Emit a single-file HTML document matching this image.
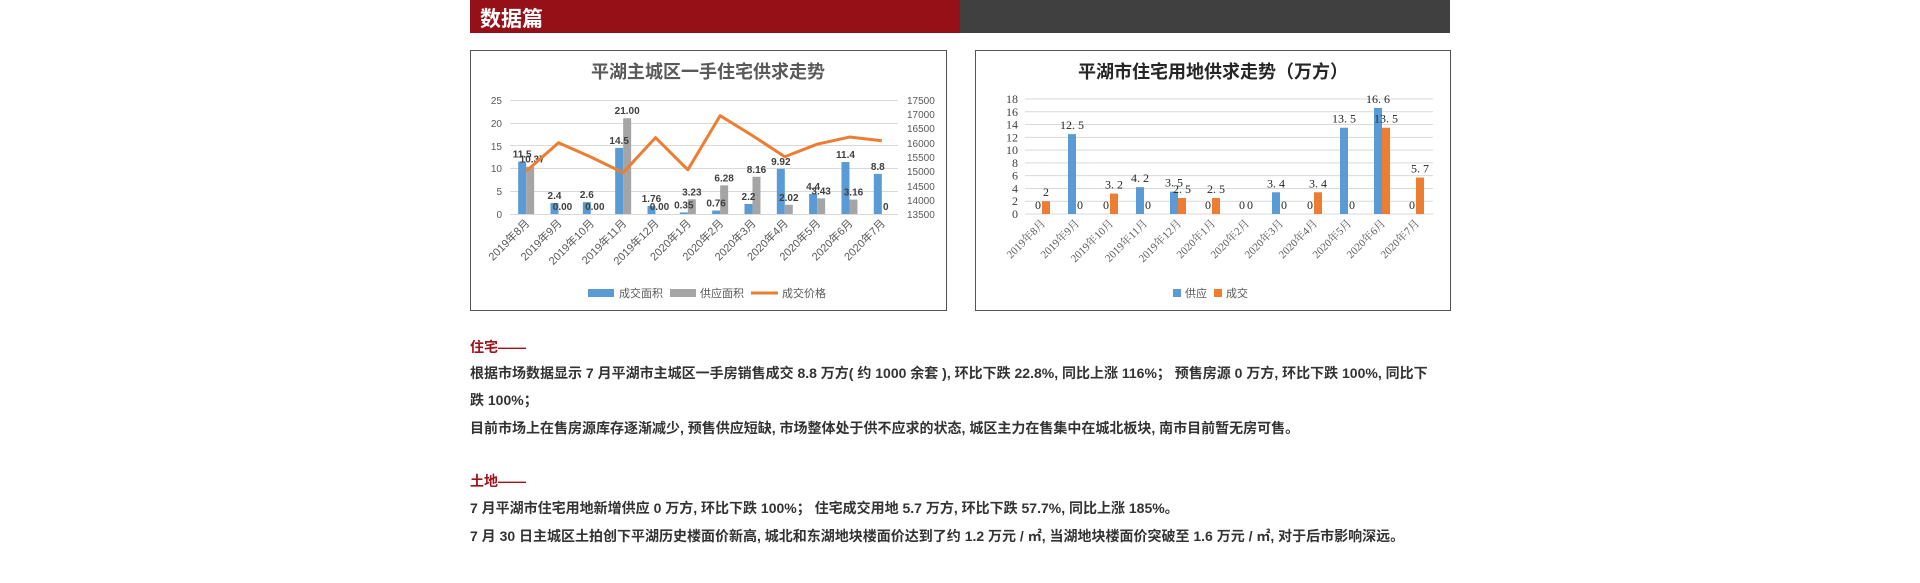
<!DOCTYPE html>
<html><head><meta charset="utf-8"><style>
body{margin:0;width:1920px;height:583px;background:#fff;position:relative;overflow:hidden;font-family:"Liberation Sans","Noto Sans CJK SC",sans-serif}
.t{position:absolute;left:470px;font-size:14px;font-weight:bold;color:#333;white-space:nowrap;letter-spacing:0px}
.r{color:#a0131a}
</style></head><body>
<div style="position:absolute;left:470px;top:0;width:490px;height:33px;background:#951017"></div>
<div style="position:absolute;left:960px;top:0;width:490px;height:33px;background:#404040"></div>
<div style="position:absolute;left:480px;top:3px;font-size:21px;font-weight:bold;color:#fff">数据篇</div>

<svg style="position:absolute;left:0;top:0" width="1920" height="583">
<rect x="470.5" y="50.5" width="476" height="260" fill="#fff" stroke="#555" stroke-width="1"/>
<rect x="975.5" y="50.5" width="475" height="260" fill="#fff" stroke="#555" stroke-width="1"/>
<g font-family="Liberation Sans,Noto Sans CJK SC,sans-serif">
<text x="708" y="78" text-anchor="middle" font-size="18" font-weight="bold" fill="#595959">平湖主城区一手住宅供求走势</text>
<g stroke="#d9d9d9" stroke-width="1">
<line x1="510" x2="898" y1="100.5" y2="100.5"/><line x1="510" x2="898" y1="123.5" y2="123.5"/><line x1="510" x2="898" y1="145.5" y2="145.5"/><line x1="510" x2="898" y1="168.5" y2="168.5"/><line x1="510" x2="898" y1="191.5" y2="191.5"/><line x1="510" x2="898" y1="214.5" y2="214.5"/>
</g>
<g font-size="10" fill="#595959" text-anchor="end">
<text x="502" y="104">25</text><text x="502" y="127">20</text><text x="502" y="150">15</text><text x="502" y="172">10</text><text x="502" y="195">5</text><text x="502" y="218">0</text>
</g>
<g font-size="10" fill="#595959">
<text x="907" y="104">17500</text><text x="907" y="118">17000</text><text x="907" y="132">16500</text><text x="907" y="147">16000</text><text x="907" y="161">15500</text><text x="907" y="175">15000</text><text x="907" y="190">14500</text><text x="907" y="204">14000</text><text x="907" y="218">13500</text>
</g>
<g id="c1"></g>
<g font-size="11" fill="#595959">
<rect x="588" y="289" width="26" height="8" fill="#5B9BD5"/><text x="619" y="297">成交面积</text>
<rect x="670" y="289" width="26" height="8" fill="#A5A5A5"/><text x="700" y="297">供应面积</text>
<line x1="751" x2="778" y1="293" y2="293" stroke="#ED7D31" stroke-width="3"/><text x="782" y="297">成交价格</text>
</g>

<text x="1213" y="78" text-anchor="middle" font-size="18" font-weight="bold" fill="#262626">平湖市住宅用地供求走势（万方）</text>
<g id="g2" stroke="#d9d9d9" stroke-width="1"></g>
<g id="c2"></g>
<g font-size="11" fill="#595959">
<rect x="1173" y="289" width="8" height="8" fill="#5B9BD5"/><text x="1185" y="297">供应</text>
<rect x="1214" y="289" width="8" height="8" fill="#ED7D31"/><text x="1226" y="297">成交</text>
</g>
</g>
</svg>

<div class="t r" style="top:337px">住宅——</div>
<div class="t" style="top:363px">根据市场数据显示 7 月平湖市主城区一手房销售成交 8.8 万方( 约 1000 余套 ), 环比下跌 22.8%, 同比上涨 116%； 预售房源 0 万方, 环比下跌 100%, 同比下</div>
<div class="t" style="top:390px">跌 100%；</div>
<div class="t" style="top:418px">目前市场上在售房源库存逐渐减少, 预售供应短缺, 市场整体处于供不应求的状态, 城区主力在售集中在城北板块, 南市目前暂无房可售。</div>
<div class="t r" style="top:471px">土地——</div>
<div class="t" style="top:498px">7 月平湖市住宅用地新增供应 0 万方, 环比下跌 100%； 住宅成交用地 5.7 万方, 环比下跌 57.7%, 同比上涨 185%。</div>
<div class="t" style="top:526px">7 月 30 日主城区土拍创下平湖历史楼面价新高, 城北和东湖地块楼面价达到了约 1.2 万元 / ㎡, 当湖地块楼面价突破至 1.6 万元 / ㎡, 对于后市影响深远。</div>

<script>
var NS="http://www.w3.org/2000/svg";
function el(p,t,a,txt){var e=document.createElementNS(NS,t);for(var k in a)e.setAttribute(k,a[k]);if(txt!==undefined)e.textContent=txt;p.appendChild(e);return e;}
var cats=["2019年8月","2019年9月","2019年10月","2019年11月","2019年12月","2020年1月","2020年2月","2020年3月","2020年4月","2020年5月","2020年6月","2020年7月"];
var c1=document.getElementById("c1");
var b=[11.5,2.4,2.6,14.5,1.76,0.35,0.76,2.2,9.92,4.4,11.4,8.8],bl=["11.5","2.4","2.6","14.5","1.76","0.35","0.76","2.2","9.92","4.4","11.4","8.8"];
var g=[10.37,0,0,21,0,3.23,6.28,8.16,2.02,3.43,3.16,0],gl=["10.37","0.00","0.00","21.00","0.00","3.23","6.28","8.16","2.02","3.43","3.16","0"];
var pr=[15000,16000,15500,14950,16180,15050,16950,16250,15510,15950,16200,16070];
var pts=[];
for(var i=0;i<12;i++){var c=510+16.17+32.33*i;
var hb=b[i]*4.56,hg=g[i]*4.56;
el(c1,"rect",{x:c-8,y:214-hb,width:8,height:hb,fill:"#5B9BD5"});
el(c1,"rect",{x:c,y:214-hg,width:8,height:hg,fill:"#A5A5A5"});
el(c1,"text",{x:c-4,y:214-hb-4,"font-size":10,"font-weight":"bold",fill:"#404040","text-anchor":"middle"},bl[i]);
el(c1,"text",{x:c+4+(i==0?2:0),y:214-hg-4,"font-size":10,"font-weight":"bold",fill:"#404040","text-anchor":"middle"},gl[i]);
pts.push(c+","+(214-(pr[i]-13500)/4000*114));
el(c1,"text",{x:c+4,y:224,"font-size":11,fill:"#595959","text-anchor":"end",transform:"rotate(-45 "+(c+4)+" 224)"},cats[i]);
}
el(c1,"polyline",{points:pts.join(" "),fill:"none",stroke:"#ED7D31","stroke-width":3,"stroke-linejoin":"round"});
var g2=document.getElementById("g2");
for(var v=0;v<=18;v+=2){var y=214-v*6.39;el(g2,"line",{x1:1025,x2:1433,y1:y,y2:y});
el(g2,"text",{x:1018,y:y+4,"font-size":12,fill:"#404040",stroke:"none","text-anchor":"end","font-family":"Liberation Serif,Noto Serif CJK SC,serif"},v);}
var c2=document.getElementById("c2");
var s=[0,12.5,0,4.2,3.5,0,0,3.4,0,13.5,16.6,0],d=[2,0,3.2,0,2.5,2.5,0,0,3.4,0,13.5,5.7];
function f(v){return v==0?"0":String(v).replace(".",". ");}
for(var i=0;i<12;i++){var c=1025+17+34*i;
var hs=s[i]*6.39,hd=d[i]*6.39;
el(c2,"rect",{x:c-8,y:214-hs,width:8,height:hs,fill:"#5B9BD5"});
el(c2,"rect",{x:c,y:214-hd,width:8,height:hd,fill:"#ED7D31"});
var ff={"font-size":12,fill:"#262626","text-anchor":"middle","font-family":"Liberation Serif,Noto Serif CJK SC,serif"};
el(c2,"text",Object.assign({x:c-4,y:214-hs-5},ff),f(s[i]));
el(c2,"text",Object.assign({x:c+4,y:214-hd-5},ff),f(d[i]));
el(c2,"text",{x:c+4,y:224,"font-size":11,fill:"#595959","text-anchor":"end",transform:"rotate(-45 "+(c+4)+" 224)","font-family":"Liberation Serif,Noto Serif CJK SC,serif"},cats[i]);
}
</script>
</body></html>
